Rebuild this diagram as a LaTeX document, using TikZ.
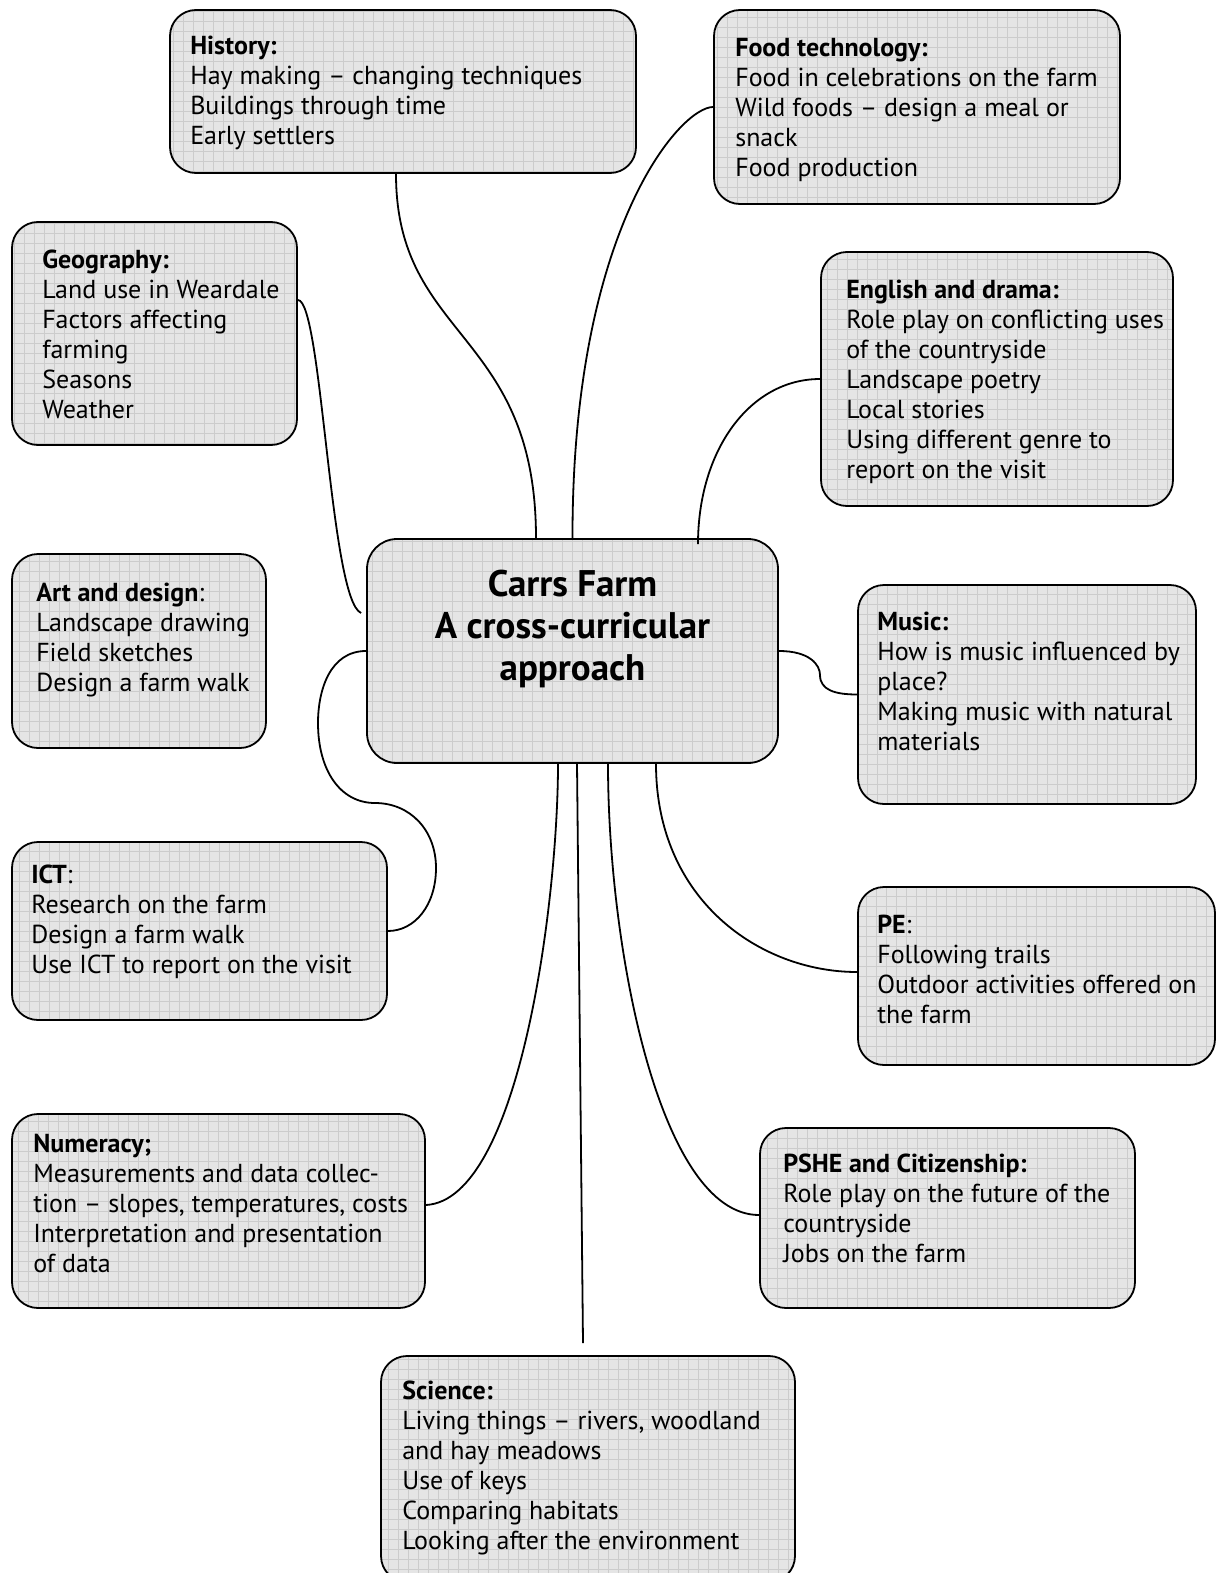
\documentclass[tikz,border=0pt]{standalone}
\usepackage{fontspec}
\setmainfont{PT Sans}
\usetikzlibrary{positioning}

\begin{document}
\begin{tikzpicture}[x=1pt,y=-1pt]
\tikzset{topic/.style={draw, line width=1.8pt, rounded corners=26pt, fill=black!10, inner sep=0pt,
    path picture={\draw[black!20, line width=0.5pt] (path picture bounding box.south west) grid[step=10pt] (path picture bounding box.north east);}}}
\tikzset{topictext/.style={anchor=north west, align=left, inner sep=0pt, font=\fontsize{26}{30}\selectfont}}
\tikzset{spoke/.style={line width=1.8pt}}
\useasboundingbox (0,0) rectangle (1216,1573);

% the hub in the middle
\node[topic, rounded corners=30pt, minimum width=411pt, minimum height=224pt] (centre) at (572.5,651) {};
\node[anchor=north, align=center, inner sep=0pt, font=\bfseries\fontsize{37}{42}\selectfont] (centre-t) at ([yshift=-32pt]centre.north) {Carrs Farm\\A cross-curricular\\approach};

% subjects round the hub
\node[topic, minimum width=466pt, minimum height=163pt] (hist) at (403,91.5) {};
\node[topictext] (hist-t) at ([xshift=21pt,yshift=-27pt]hist.north west) {\textbf{History:}\\Hay making – changing techniques\\Buildings through time\\Early settlers};

\node[topic, minimum width=406pt, minimum height=194pt] (food) at (917,107) {};
\node[topictext] (food-t) at ([xshift=22pt,yshift=-29pt]food.north west) {\textbf{Food technology:}\\Food in celebrations on the farm\\Wild foods – design a meal or\\snack\\Food production};

\node[topic, minimum width=285pt, minimum height=223pt] (geo) at (154.5,333.5) {};
\node[topictext] (geo-t) at ([xshift=31pt,yshift=-29pt]geo.north west) {\textbf{Geography:}\\Land use in Weardale\\Factors affecting\\farming\\Seasons\\Weather};

\node[topic, minimum width=352pt, minimum height=254pt] (eng) at (997,379) {};
\node[topictext] (eng-t) at ([xshift=26pt,yshift=-29pt]eng.north west) {\textbf{English and drama:}\\Role play on conflicting uses\\of the countryside\\Landscape poetry\\Local stories\\Using different genre to\\report on the visit};

\node[topic, minimum width=254pt, minimum height=194pt] (art) at (139,651) {};
\node[topictext] (art-t) at ([xshift=25pt,yshift=-30pt]art.north west) {\textbf{Art and design}:\\Landscape drawing\\Field sketches\\Design a farm walk};

\node[topic, minimum width=338pt, minimum height=219pt] (music) at (1027,694.5) {};
\node[topictext] (music-t) at ([xshift=20pt,yshift=-28pt]music.north west) {\textbf{Music:}\\How is music influenced by\\place?\\Making music with natural\\materials};

\node[topic, minimum width=375pt, minimum height=178pt] (ict) at (199.5,931) {};
\node[topictext] (ict-t) at ([xshift=20pt,yshift=-24pt]ict.north west) {\textbf{ICT}:\\Research on the farm\\Design a farm walk\\Use ICT to report on the visit};

\node[topic, minimum width=357pt, minimum height=178pt] (pe) at (1036.5,976) {};
\node[topictext] (pe-t) at ([xshift=20pt,yshift=-29pt]pe.north west) {\textbf{PE}:\\Following trails\\Outdoor activities offered on\\the farm};

\node[topic, minimum width=413pt, minimum height=194pt] (num) at (218.5,1211) {};
\node[topictext] (num-t) at ([xshift=22pt,yshift=-21pt]num.north west) {\textbf{Numeracy;}\\Measurements and data collec-\\tion – slopes, temperatures, costs\\Interpretation and presentation\\of data};

\node[topic, minimum width=375pt, minimum height=180pt] (pshe) at (947.5,1218) {};
\node[topictext] (pshe-t) at ([xshift=24pt,yshift=-27pt]pshe.north west) {\textbf{PSHE and Citizenship:}\\Role play on the future of the\\countryside\\Jobs on the farm};

\node[topic, minimum width=414pt, minimum height=226pt] (sci) at (588,1469) {};
\node[topictext] (sci-t) at ([xshift=22pt,yshift=-26pt]sci.north west) {\textbf{Science:}\\Living things – rivers, woodland\\and hay meadows\\Use of keys\\Comparing habitats\\Looking after the environment};

% curved spokes
\draw[spoke] ([xshift=-7pt]hist.south) .. controls (396,340) and (536,330) .. ([xshift=-36.5pt]centre.north);
\draw[spoke] (food.west) .. controls (680,107) and (572,230) .. (centre.north);
\draw[spoke] ([yshift=33.5pt]geo.east) .. controls (322,300) and (330,600) .. ([xshift=-5pt,yshift=38pt]centre.west);
\draw[spoke] (eng.west) .. controls (750,379) and (698,450) .. ([xshift=125.5pt,yshift=-6pt]centre.north);
\draw[spoke] (centre.east) .. controls (810,651) and (820,665) .. (820,675) .. controls (820,690) and (835,694.5) .. (music.west);
\draw[spoke] (centre.west) .. controls (330,651) and (318,690) .. (318,723) .. controls (318,770) and (340,803) .. (375,803) .. controls (410,803) and (436,830) .. (436,868) .. controls (436,905) and (415,931) .. (ict.east);
\draw[spoke] ([xshift=-14.5pt]centre.south) .. controls (558,900) and (520,1200) .. ([yshift=6pt]num.east);
\draw[spoke] ([xshift=4.5pt]centre.south) -- ([xshift=-5pt,yshift=12pt]sci.north);
\draw[spoke] ([xshift=35.5pt]centre.south) .. controls (608,950) and (660,1215) .. ([yshift=3pt]pshe.west);
\draw[spoke] ([xshift=83.5pt]centre.south) .. controls (656,900) and (760,972) .. ([yshift=4pt]pe.west);
\end{tikzpicture}
\end{document}
